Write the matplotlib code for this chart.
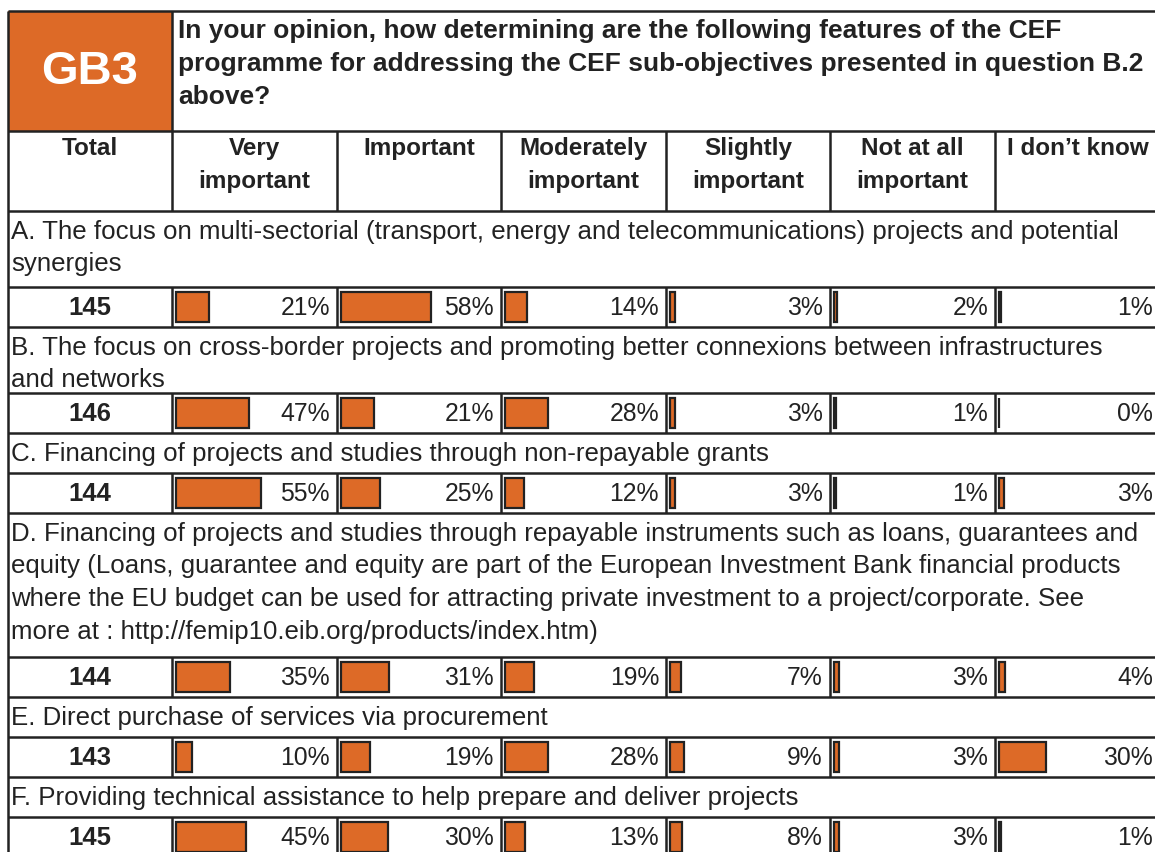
import numpy as np
import matplotlib
matplotlib.use('Agg')
import matplotlib.pyplot as plt
from matplotlib.patches import Rectangle

plt.rcParams['font.family'] = ['Liberation Sans', 'DejaVu Sans']

# 数据
code = 'GB3'
question = ('In your opinion, how determining are the following features of the CEF\n'
            'programme for addressing the CEF sub-objectives presented in question B.2\n'
            'above?')
headers = ['Total', 'Very\nimportant', 'Important', 'Moderately\nimportant',
           'Slightly\nimportant', 'Not at all\nimportant', 'I don\u2019t know']
items = [
    'A. The focus on multi-sectorial (transport, energy and telecommunications) projects and potential\nsynergies',
    'B. The focus on cross-border projects and promoting better connexions between infrastructures\nand networks',
    'C. Financing of projects and studies through non-repayable grants',
    'D. Financing of projects and studies through repayable instruments such as loans, guarantees and\n'
    'equity (Loans, guarantee and equity are part of the European Investment Bank financial products\n'
    'where the EU budget can be used for attracting private investment to a project/corporate. See\n'
    'more at : http://femip10.eib.org/products/index.htm)',
    'E. Direct purchase of services via procurement',
    'F. Providing technical assistance to help prepare and deliver projects',
]
totals = [145, 146, 144, 144, 143, 145]
pct = np.array([
    [21, 58, 14, 3, 2, 1],
    [47, 21, 28, 3, 1, 0],
    [55, 25, 12, 3, 1, 3],
    [35, 31, 19, 7, 3, 4],
    [10, 19, 28, 9, 3, 30],
    [45, 30, 13, 8, 3, 1],
])

orange = '#DD6A27'
ink = '#222222'
W, H = 1155, 852
fig = plt.figure(figsize=(W / 100, H / 100), dpi=100)
ax = fig.add_axes([0, 0, 1, 1])
ax.set_xlim(0, W)
ax.set_ylim(H, 0)
ax.axis('off')

lw = 1.8
cols = [8, 172, 337, 501, 666, 830, 995, 1160]
top, title_bot, head_bot = 11, 131, 211
text_h = [76, 66, 40, 144, 40, 40]
data_h = 40
scale = 1.55  # px per %

def hline(y):
    ax.plot([cols[0], W], [y, y], color=ink, lw=lw, solid_capstyle='butt')

def vline(x, y0, y1):
    ax.plot([x, x], [y0, y1], color=ink, lw=lw, solid_capstyle='butt')

# 标题
ax.add_patch(Rectangle((cols[0], top), cols[1] - cols[0], title_bot - top, color=orange, lw=0))
ax.text((cols[0] + cols[1]) / 2, (top + title_bot) / 2 + 1, code, color='white',
        fontsize=34, fontweight='bold', ha='center', va='center')
ax.text(cols[1] + 6, 19, question, fontsize=19, fontweight='bold', color=ink,
        ha='left', va='top', linespacing=1.47)
hline(top)
hline(title_bot)
vline(cols[1], top, title_bot)

# 表头
for i, h in enumerate(headers):
    ax.text((cols[i] + cols[i + 1]) / 2, 137, h, fontsize=17.5, fontweight='bold',
            color=ink, ha='center', va='top', linespacing=1.53)
for x in cols[1:-1]:
    vline(x, title_bot, head_bot)
hline(head_bot)

# 各行
y = head_bot
for k in range(len(items)):
    ax.text(cols[0] + 3, y + 8.5, items[k], fontsize=18.6, color=ink,
            ha='left', va='top', linespacing=1.46)
    y += text_h[k]
    hline(y)
    yc = y + data_h / 2
    ax.text((cols[0] + cols[1]) / 2, yc + 1, str(totals[k]), fontsize=18.5, fontweight='bold',
            color=ink, ha='center', va='center')
    lefts = np.array(cols[1:-1]) + 4
    ax.barh([yc] * len(lefts), pct[k] * scale, left=lefts, height=30, color=orange,
            edgecolor=ink, linewidth=1.6)
    for j in range(len(lefts)):
        ax.text(cols[j + 2] - 7, yc + 1, f'{pct[k][j]}%', fontsize=17.8, color=ink,
                ha='right', va='center')
    for x in cols[1:-1]:
        vline(x, y, y + data_h)
    y += data_h
    hline(y)

vline(cols[0], top, H)

fig.savefig('out.png', dpi=100)
